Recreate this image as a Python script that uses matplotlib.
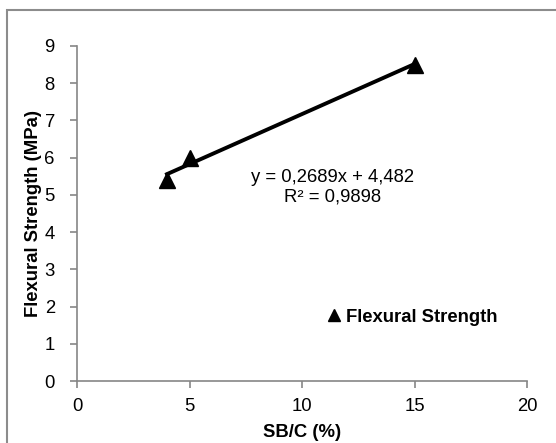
import numpy as np
import matplotlib.pyplot as plt
from matplotlib.patches import Rectangle

plt.rcParams['font.family'] = ['Liberation Sans', 'DejaVu Sans']

sbc = [4, 5, 15]
strength = [5.4, 6.0, 8.5]
slope = 0.2689
intercept = 4.482
eq_text = "y = 0,2689x + 4,482\nR² = 0,9898"
x_ticks = [0, 5, 10, 15, 20]
y_ticks = list(range(10))

fs = 13.3
W, H = 556, 443
fig = plt.figure(figsize=(W / 100, H / 100), dpi=100)
ax = fig.add_axes([77 / W, (H - 381) / H, 450 / W, 335 / H])

ax.plot(sbc, strength, linestyle='none', marker='^', color='black',
        markersize=11, label='Flexural Strength', zorder=3)

xs = np.array([min(sbc), max(sbc)])
ax.plot(xs, slope * xs + intercept, color='black', linewidth=2.8, zorder=2)

ax.text(11.35, 5.2, eq_text, ha='center', va='center', fontsize=fs,
        linespacing=1.15)

ax.set_xlim(0, 20)
ax.set_ylim(0, 9)
ax.set_xticks(x_ticks)
ax.set_yticks(y_ticks)
ax.set_xticklabels([str(t) for t in x_ticks])
ax.set_yticklabels([str(t) for t in y_ticks])

for side in ['top', 'right']:
    ax.spines[side].set_visible(False)
for side in ['left', 'bottom']:
    ax.spines[side].set_color('#868686')
    ax.spines[side].set_linewidth(1.2)
ax.tick_params(direction='out', color='#868686', length=5, width=1.2,
               labelsize=fs, labelcolor='black', pad=7)
ax.tick_params(axis='y', pad=11)

ax.set_xlabel('SB/C (%)', fontweight='bold', fontsize=fs, labelpad=7)
ax.set_ylabel('Flexural Strength (MPa)', fontweight='bold', fontsize=fs,
              labelpad=2)

ax.legend(loc='center left', bbox_to_anchor=(0.514, 0.19), frameon=False,
          handletextpad=0.15, handlelength=1.0, markerscale=0.85,
          prop={'weight': 'bold', 'size': fs})

fig.patches.append(Rectangle((7, -10), W, H, transform=None, fill=False,
                             edgecolor='#8c8c8c', linewidth=1.5))

fig.savefig('out.png', dpi=100)
